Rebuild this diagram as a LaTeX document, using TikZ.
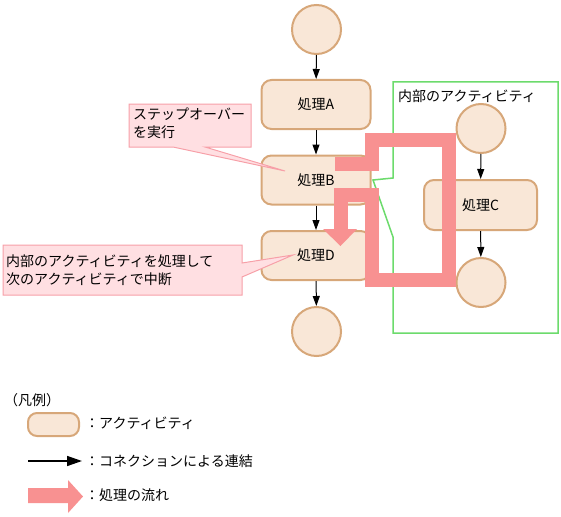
\documentclass[tikz,border=0pt]{standalone}
\usepackage{fontspec}
\setmainfont{Noto Sans CJK JP}
\usetikzlibrary{arrows.meta}
\definecolor{actfill}{HTML}{F9E7D7}
\definecolor{actdraw}{HTML}{D7A779}
\definecolor{flowpink}{HTML}{F89191}
\definecolor{notefill}{HTML}{FFDFE2}
\definecolor{notedraw}{HTML}{F7A0A8}
\definecolor{grp}{HTML}{6CDB6C}
\begin{document}
\begin{tikzpicture}[x=1pt,y=-1pt,
  txt/.style={font=\fontsize{14}{17.5}\selectfont, inner sep=0pt},
  activity/.style={draw=actdraw, fill=actfill, line width=2pt, rounded corners=10pt,
     minimum width=109pt, minimum height=49pt, inner sep=0pt, font=\fontsize{14}{16}\selectfont},
  endpoint/.style={circle, draw=actdraw, fill=actfill, line width=2pt, minimum size=49pt, inner sep=0pt},
  conn/.style={line width=1pt, -{Triangle[length=10pt,width=7pt]}},
  flow/.style={draw=flowpink, line width=14pt, miter limit=10, line join=miter},
  note/.style={draw=notedraw, fill=notefill, line width=1pt}
]
\useasboundingbox (0,0) rectangle (561,516);

% inner activity group (callout-like frame)
\draw[draw=grp, line width=1.5pt, fill=white] (393,82) -- (558,82) -- (558,333) -- (393,333) -- (393,237) -- (373,180) -- (393,178) -- cycle;
\node[txt, anchor=west] (grplbl) at (398,96) {内部のアクティビティ};

% main flow
\node[endpoint] (s) at (316.5,29.5) {};
\node[activity] (a) at (316,104.5) {処理A};
\node[activity] (b) at (316,180) {処理B};
\node[activity] (d) at (316,255.5) {処理D};
\node[endpoint] (e) at (316.5,331.5) {};
\draw[conn] (s) -- (a);
\draw[conn] (a) -- (b);
\draw[conn] (b) -- (d);
\draw[conn] (d) -- (e);

% inner flow
\node[endpoint] (is) at (481,128.5) {};
\node[activity, minimum width=113pt, minimum height=50pt] (c) at (480.5,205) {処理C};
\node[endpoint] (ie) at (481,282.5) {};
\draw[conn] (is) -- (c);
\draw[conn] (c) -- (ie);

% notes
\draw[note] (129,104) -- (251,104) -- (251,147) -- (205,147) -- (285,171) -- (173,147) -- (129,147) -- cycle;
\node[txt, anchor=north west, align=left] (n1) at (133,108) {ステップオーバー\\を実行};
\draw[note] (3,245) -- (242,245) -- (242,263) -- (293,255) -- (242,277) -- (242,295) -- (3,295) -- cycle;
\node[txt, anchor=north west, align=left] (n2) at (6,255) {内部のアクティビティを処理して\\次のアクティビティで中断};

% processing flow (thick pink)
\draw[flow] (335,164) -- (371.5,164) -- (371.5,140) -- (448.5,140) -- (448.5,280) -- (371.5,280) -- (371.5,195) -- (340.5,195) -- (340.5,229.5);
\fill[flowpink] (323,229) -- (357,229) -- (340.5,246) -- cycle;

% legend
\node[txt, anchor=west] (lg) at (4,400) {（凡例）};
\node[draw=actdraw, fill=actfill, line width=2pt, rounded corners=9pt, minimum width=51pt, minimum height=23pt, inner sep=0pt] (lbox) at (53.5,424.5) {};
\node[txt, anchor=west] (l1) at (85,423) {：アクティビティ};
\coordinate (la0) at (28,461);
\coordinate (la1) at (82,461);
\draw[line width=1.5pt, -{Triangle[length=15pt,width=10pt]}] (la0) -- (la1);
\node[txt, anchor=west] (l2) at (85,461) {：コネクションによる連結};
\fill[flowpink] (28,488) -- (68,488) -- (68,480) -- (83,496.5) -- (68,513) -- (68,503) -- (28,503) -- cycle;
\node[txt, anchor=west] (l3) at (85,495) {：処理の流れ};
\end{tikzpicture}
\end{document}
